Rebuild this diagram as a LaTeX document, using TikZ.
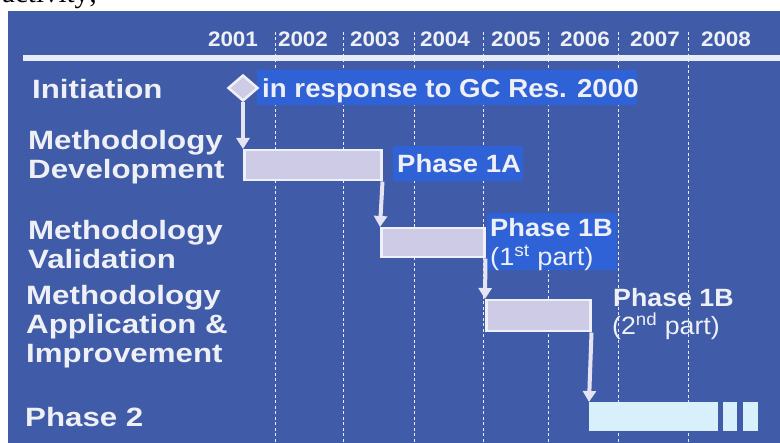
\documentclass[tikz,border=0pt]{standalone}
\usepackage{fontspec}
\setmainfont{Liberation Sans}
\newfontfamily\serifdoc{Liberation Serif}
\usepackage{graphicx}
\usetikzlibrary{arrows.meta,shapes.geometric}
\definecolor{panel}{HTML}{405CA8}
\definecolor{hilite}{HTML}{2E62D6}
\definecolor{txt}{HTML}{EEF0F6}
\definecolor{barfill}{HTML}{CDCBE6}
\definecolor{barline}{HTML}{F0F0F8}
\definecolor{phasetwo}{HTML}{D8F0FB}
\definecolor{arrowc}{HTML}{E6E4F2}
\definecolor{gridc}{HTML}{E8ECF6}
\newcommand\wt[3]{\scalebox{#1}[1]{\fontsize{#2}{29}\selectfont\begin{tabular}[t]{@{}l@{}}#3\end{tabular}}}
\tikzset{
  lbl/.style={anchor=base west, inner sep=0pt, text=txt, font=\bfseries},
  yearlbl/.style={anchor=base, inner sep=0pt, text=txt, font=\bfseries},
  gridline/.style={draw=gridc, line width=1pt, dash pattern=on 3pt off 2.5pt},
  barbox/.style={draw=barline, fill=barfill, line width=2.5pt, inner sep=0pt, anchor=north west},
  ptwo/.style={fill=phasetwo, inner sep=0pt, anchor=north west},
  arr/.style={draw=arrowc, line width=4pt, -{Triangle[width=13pt,length=11pt]}},
}
\begin{document}
\begin{tikzpicture}[x=1pt,y=-1pt]
\useasboundingbox (0,0) rectangle (780,443);
\clip (0,0) rectangle (780,443);
% document text above the figure (cut off)
\node[anchor=base west, inner sep=0pt, font=\serifdoc\fontsize{29}{30}\selectfont] (doc) at (2,3) {activity;};
% panel
\fill[panel] (8,11) rectangle (780,443);
% grid lines
\foreach \gx in {275,343,414,483,548,618,688}
  \draw[gridline] (\gx,32) -- (\gx,443);
% horizontal rule
\fill[gridc] (23,55) rectangle (780,61);
% years
\foreach \yx/\yy in {233/2001,303/2002,375/2003,445/2004,516/2005,585/2006,655/2007,726/2008}
  \node[yearlbl] (y\yy) at (\yx,47) {\wt{1.07}{21}{\yy}};
% highlights
\fill[hilite] (257,70) rectangle (637,105);
\fill[hilite] (393,146) rectangle (523,181);
\fill[hilite] (487,213) rectangle (617,270);
% bars
\node[diamond, draw=barline, fill=barfill, line width=2.5pt, minimum width=30pt, minimum height=26pt, inner sep=0pt] (dia) at (243,88) {};
\node[barbox, minimum width=137pt, minimum height=30pt] (b1) at (243,149) {};
\node[barbox, minimum width=103pt, minimum height=29pt] (b2) at (380,227) {};
\node[barbox, minimum width=104pt, minimum height=31pt] (b3) at (485,299) {};
\node[ptwo, minimum width=129pt, minimum height=29pt] (p2) at (589,402) {};
\node[ptwo, minimum width=14pt, minimum height=29pt] (p2a) at (723,402) {};
\node[ptwo, minimum width=15pt, minimum height=29pt] (p2b) at (743,402) {};
% arrows
\draw[arr] (dia.south) -- (b1.north west);
\draw[arr] (b1.south east) -- (b2.north west);
\draw[arr] (b2.south east) -- (b3.north west);
\draw[arr] (b3.south east) -- (p2.north west);
% left labels
\node[lbl] (linit) at (32,99) {\wt{1.18}{26.5}{Initiation}};
\node[lbl] (ldev) at (28,150) {\wt{1.18}{26.5}{Methodology\\Development}};
\node[lbl] (lval) at (28,240) {\wt{1.18}{26.5}{Methodology\\Validation}};
\node[lbl] (lapp) at (26,305) {\wt{1.18}{26.5}{Methodology\\Application \&\\Improvement}};
\node[lbl] (lp2) at (25,427) {\wt{1.18}{26.5}{Phase 2}};
% bar labels
\node[lbl] (tinit) at (262,98) {\wt{1.065}{26}{in response to GC Res. 2000}};
\node[lbl] (t1a) at (397,173) {\wt{1.1}{25}{Phase 1A}};
\node[lbl] (t1b) at (490,237) {\wt{1.09}{25}{Phase 1B}};
\node[lbl, font=\mdseries] (t1bp) at (490,266) {\wt{1.09}{25}{(1\textsuperscript{st} part)}};
\node[lbl] (t1c) at (613,307) {\wt{1.07}{25}{Phase 1B}};
\node[lbl, font=\mdseries] (t1cp) at (612,335) {\wt{1.07}{25}{(2\textsuperscript{nd} part)}};
\end{tikzpicture}
\end{document}
